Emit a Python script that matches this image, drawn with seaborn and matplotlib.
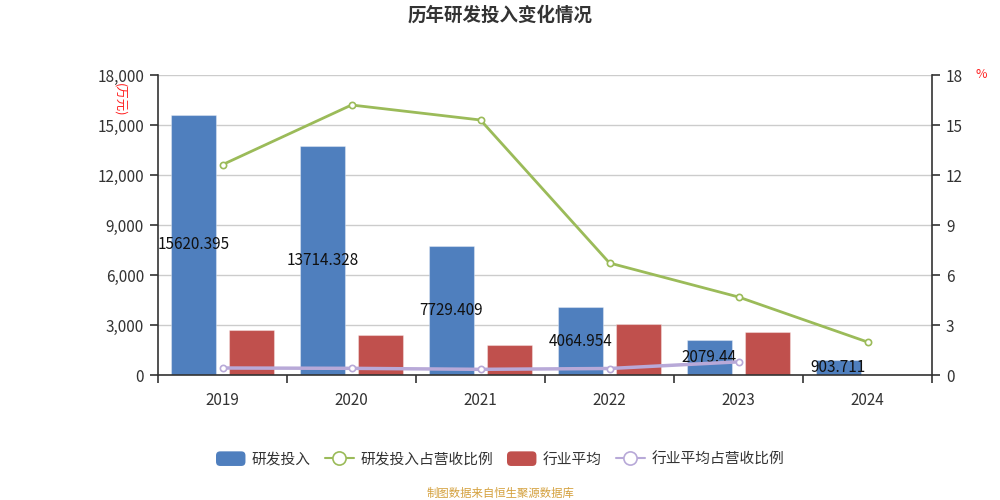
import numpy as np
import pandas as pd
import matplotlib
matplotlib.use("Agg")
import matplotlib.pyplot as plt
import seaborn as sns
from matplotlib.patches import Patch, FancyBboxPatch
from matplotlib.lines import Line2D
from matplotlib.legend_handler import HandlerPatch
from matplotlib.ticker import FuncFormatter, MultipleLocator

years = ["2019", "2020", "2021", "2022", "2023", "2024"]
rd_invest = [15620.395, 13714.328, 7729.409, 4064.954, 2079.44, 903.711]
industry_avg = [2700, 2400, 1800, 3040, 2560, np.nan]
rd_ratio = [12.62, 16.2, 15.3, 6.72, 4.68, 1.98]
industry_ratio = [0.42, 0.40, 0.34, 0.39, 0.79, np.nan]
rd_labels = ["15620.395", "13714.328", "7729.409", "4064.954", "2079.44", "903.711"]

series_names = ["研发投入", "研发投入占营收比例", "行业平均", "行业平均占营收比例"]
c_blue, c_green, c_red, c_purple = "#4F7FBE", "#9BBB59", "#C0504D", "#B8A9D8"

sns.set_theme(style="white")
plt.rcParams['font.family'] = ['Noto Sans CJK SC', 'DejaVu Sans']

bar_df = pd.DataFrame({
    "year": years * 2,
    "value": rd_invest + industry_avg,
    "series": [series_names[0]] * len(years) + [series_names[2]] * len(years),
})

fig = plt.figure(figsize=(10, 5), dpi=100)
ax = fig.add_axes([0.158, 0.25, 0.774, 0.60])

sns.barplot(data=bar_df, x="year", y="value", hue="series", order=years,
            hue_order=[series_names[0], series_names[2]],
            palette=[c_blue, c_red], width=0.905, gap=0.23, ax=ax,
            legend=False, saturation=1, err_kws={'linewidth': 0})
for p in ax.patches:
    p.set_edgecolor((1, 1, 1, 0.35))
    p.set_linewidth(0.8)

ax.bar_label(ax.containers[0], labels=rd_labels, label_type='center',
             fontsize=11, color='#111111')

ax.set_ylim(0, 18000)
ax.yaxis.set_major_locator(MultipleLocator(3000))
ax.yaxis.set_major_formatter(FuncFormatter(lambda v, p: f"{int(v):,}"))
ax.set_xlabel("")
ax.set_ylabel("")
ax.grid(axis='y', color='#cccccc', linewidth=1)
ax.set_axisbelow(True)
for s in ['top', 'right']:
    ax.spines[s].set_visible(False)
for s in ['left', 'bottom']:
    ax.spines[s].set_color('#333333')
    ax.spines[s].set_linewidth(1.2)
ax.tick_params(axis='y', left=True, length=6, width=1.2, color='#333333',
               labelsize=11, labelcolor='#333333', pad=4)
ax.tick_params(axis='x', bottom=False, labelsize=11, labelcolor='#333333', pad=6)
ax.set_xticks(np.arange(-0.5, len(years), 1.0), minor=True)
ax.tick_params(axis='x', which='minor', bottom=True, length=6, width=1.2, color='#333333')

ax2 = ax.twinx()
line_df = pd.DataFrame({"year": years, "rd": rd_ratio, "ind": industry_ratio})
sns.pointplot(data=line_df, x="year", y="rd", order=years, color=c_green, ax=ax2,
              markers='o', markersize=4.5, linewidth=2, markerfacecolor='white',
              markeredgewidth=1.2, markeredgecolor=c_green, zorder=5)
sns.pointplot(data=line_df, x="year", y="ind", order=years, color=c_purple, ax=ax2,
              markers='o', markersize=4.5, linewidth=2.5, markerfacecolor='white',
              markeredgewidth=1.2, markeredgecolor=c_purple, zorder=5)
ax2.set_ylim(0, 18)
ax2.yaxis.set_major_locator(MultipleLocator(3))
ax2.set_ylabel("")
ax2.set_xlabel("")
for s in ['top', 'left', 'bottom']:
    ax2.spines[s].set_visible(False)
ax2.spines['right'].set_color('#333333')
ax2.spines['right'].set_linewidth(1.2)
ax2.tick_params(axis='y', right=True, length=6, width=1.2, color='#333333',
                labelsize=11, labelcolor='#333333', pad=4)
ax2.grid(False)
ax2.set_xlim(-0.5, len(years) - 0.5)
ax.set_xlim(-0.5, len(years) - 0.5)

fig.text(0.5, 0.97, "历年研发投入变化情况", ha='center', va='center',
         fontsize=13.3, fontweight='bold', color='#333333')
fig.text(0.12, 0.834, "(万元)", rotation=-90, ha='center', va='top',
         fontsize=9, color='#ff2222')
fig.text(0.981, 0.85, "%", ha='center', va='center', fontsize=9, color='#ff2222')


class RoundPatchHandler(HandlerPatch):
    def create_artists(self, legend, orig_handle, xdescent, ydescent,
                       width, height, fontsize, trans):
        p = FancyBboxPatch((-xdescent, -ydescent), width, height,
                           boxstyle="round,pad=0,rounding_size=3",
                           facecolor=orig_handle.get_facecolor(),
                           edgecolor='none', transform=trans)
        return [p]


handles = [
    Patch(facecolor=c_blue, edgecolor=c_blue),
    Line2D([0], [0], color=c_green, lw=1.5, marker='o', markersize=9.5,
           markerfacecolor='white', markeredgecolor=c_green, markeredgewidth=1.2),
    Patch(facecolor=c_red, edgecolor=c_red),
    Line2D([0], [0], color=c_purple, lw=1.5, marker='o', markersize=9.5,
           markerfacecolor='white', markeredgecolor=c_purple, markeredgewidth=1.2),
]
fig.legend(handles, series_names, loc='center', bbox_to_anchor=(0.5, 1 - 459 / 500),
           ncol=4, frameon=False, fontsize=10.6, handlelength=2.0, handleheight=1.15,
           handletextpad=0.42, columnspacing=0.95, labelcolor='#333333',
           handler_map={Patch: RoundPatchHandler()})

fig.text(0.5, 1 - 493 / 500, "制图数据来自恒生聚源数据库", ha='center', va='center',
         fontsize=8.2, color='#D4A03C')

fig.savefig("out.png", dpi=100)
